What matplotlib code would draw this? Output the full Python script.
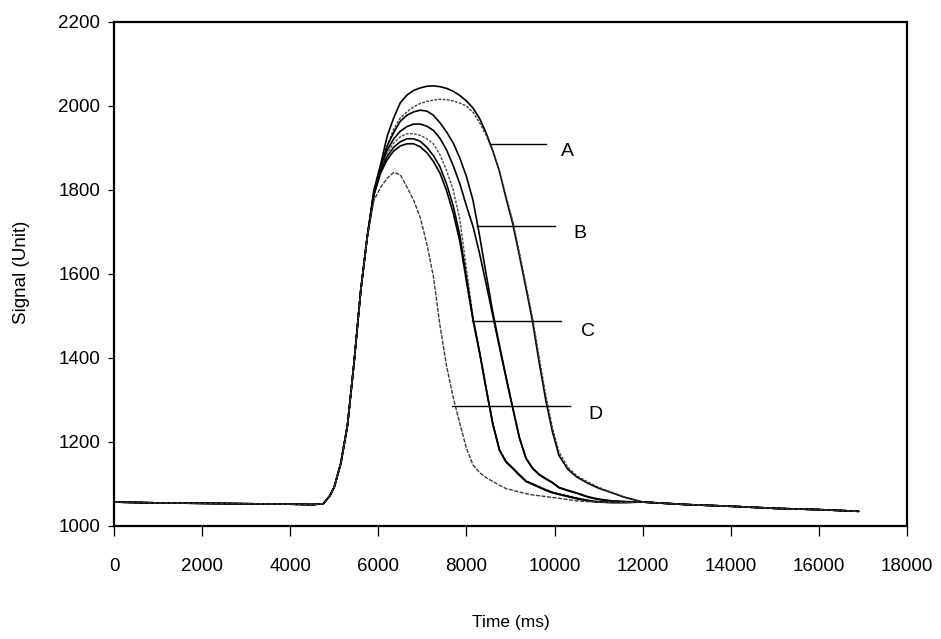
import matplotlib
matplotlib.use("Agg")
import matplotlib.pyplot as plt

plt.rcParams['font.family'] = ['Liberation Sans', 'DejaVu Sans']

# ---------------- data ----------------
# shared baseline and rising edge
time_rise = [0, 1000, 2000, 3000, 4000, 4500, 4750, 4900, 5000, 5150, 5300, 5450, 5600, 5750]
signal_rise = [1057, 1055, 1054, 1053, 1052, 1051, 1053, 1072, 1093, 1150, 1240, 1390, 1560, 1690]

# region where the curves differ
time_mid = [5900, 6050, 6200, 6350, 6500, 6650, 6800, 6950, 7100, 7250, 7400, 7550,
            7700, 7850, 8000, 8150, 8300, 8450, 8600, 8750, 8900, 9050, 9200, 9350,
            9500, 9650, 9800, 9950, 10100, 10300, 10500, 10750, 11000, 11300, 11600]

curve_A1 = [1800, 1860, 1928, 1972, 2008, 2026, 2037, 2043, 2047, 2048, 2046, 2042,
            2035, 2025, 2012, 1995, 1970, 1935, 1893, 1844, 1780, 1720, 1645, 1567,
            1487, 1390, 1300, 1225, 1168, 1135, 1117, 1102, 1090, 1079, 1068]
curve_A2 = [1795, 1850, 1905, 1945, 1972, 1986, 1998, 2006, 2011, 2014, 2016, 2015,
            2012, 2007, 2000, 1985, 1960, 1930, 1892, 1845, 1785, 1726, 1652, 1575,
            1496, 1402, 1312, 1235, 1176, 1140, 1120, 1105, 1092, 1080, 1069]
curve_B1 = [1795, 1855, 1905, 1937, 1964, 1978, 1986, 1990, 1988, 1978, 1960, 1938,
            1912, 1876, 1832, 1775, 1690, 1598, 1508, 1430, 1355, 1283, 1212, 1162,
            1138, 1123, 1113, 1104, 1092, 1085, 1079, 1070, 1064, 1060, 1058]
curve_B2 = [1793, 1850, 1895, 1922, 1940, 1951, 1957, 1957, 1952, 1942, 1923, 1895,
            1858, 1815, 1762, 1713, 1648, 1575, 1500, 1425, 1352, 1280, 1210, 1161,
            1137, 1122, 1112, 1103, 1091, 1084, 1078, 1069, 1063, 1059, 1058]
curve_C1 = [1790, 1848, 1888, 1912, 1927, 1934, 1934, 1930, 1922, 1910, 1884, 1846,
            1800, 1730, 1612, 1497, 1415, 1328, 1245, 1183, 1154, 1139, 1123, 1108,
            1101, 1094, 1087, 1081, 1077, 1072, 1067, 1062, 1058, 1057, 1057]
curve_C2 = [1789, 1845, 1880, 1902, 1915, 1922, 1922, 1916, 1902, 1882, 1855, 1814,
            1762, 1692, 1592, 1492, 1413, 1326, 1243, 1181, 1153, 1138, 1122, 1107,
            1100, 1093, 1086, 1080, 1076, 1071, 1066, 1061, 1057, 1056, 1056]
curve_C3 = [1788, 1840, 1872, 1893, 1905, 1910, 1910, 1903, 1889, 1868, 1840, 1798,
            1745, 1678, 1582, 1490, 1411, 1324, 1241, 1180, 1152, 1137, 1121, 1106,
            1099, 1092, 1085, 1079, 1075, 1070, 1065, 1060, 1057, 1056, 1056]
curve_D = [1775, 1806, 1828, 1842, 1836, 1807, 1776, 1735, 1672, 1594, 1477, 1380,
           1306, 1244, 1185, 1145, 1127, 1115, 1106, 1097, 1089, 1085, 1081, 1077,
           1074, 1072, 1070, 1068, 1066, 1063, 1060, 1058, 1057, 1056, 1056]

# shared tail
time_tail = [12000, 12500, 13000, 14000, 15000, 16000, 16900]
signal_tail = [1057, 1054, 1051, 1047, 1042, 1039, 1035]

x_ticks = [0, 2000, 4000, 6000, 8000, 10000, 12000, 14000, 16000, 18000]
y_ticks = [1000, 1200, 1400, 1600, 1800, 2000, 2200]
x_label = "Time (ms)"
y_label = "Signal (Unit)"
curve_labels = ["A", "B", "C", "D"]

# ---------------- figure ----------------
fig = plt.figure(figsize=(9.41, 6.39), dpi=100)
ax = fig.add_axes([114 / 941, 1 - 526 / 639, 793 / 941, 504 / 639])

time_all = time_rise + time_mid + time_tail
styles = [
    (curve_A1, dict(color="black", lw=1.2)),
    (curve_A2, dict(color="#3a3a3a", lw=1.0, ls=(0, (2, 1)))),
    (curve_B1, dict(color="black", lw=1.2)),
    (curve_B2, dict(color="black", lw=1.2)),
    (curve_C1, dict(color="#4a4a4a", lw=1.0, ls=(0, (2, 1)))),
    (curve_C2, dict(color="black", lw=1.2)),
    (curve_C3, dict(color="black", lw=1.2)),
    (curve_D, dict(color="#3a3a3a", lw=1.0, ls=(0, (3, 1)))),
]
for vals, st in styles:
    ax.plot(time_all, signal_rise + vals + signal_tail, solid_capstyle="round", **st)

ax.set_xlim(0, 18000)
ax.set_ylim(1000, 2200)
ax.set_xticks(x_ticks)
ax.set_yticks(y_ticks)
ax.set_xticklabels([str(v) for v in x_ticks], fontsize=13.5)
ax.set_yticklabels([str(v) for v in y_ticks], fontsize=13.5)
ax.tick_params(axis="x", direction="out", length=7, width=0.9, pad=16)
ax.tick_params(axis="y", direction="out", length=4, width=0.9, pad=6)
for sp in ax.spines.values():
    sp.set_linewidth(1.6)
    sp.set_color("black")

fig.text(511 / 941, 1 - 622 / 639, x_label, ha="center", va="center", fontsize=12.5)
fig.text(22 / 941, 1 - 272 / 639, y_label, ha="center", va="center",
         rotation=90, fontsize=13.5)

# leader lines and labels A-D (line from curve to the right, letter after it)
leaders = [
    (8545, 9795, 1910, 10300, 1892),
    (8250, 10000, 1715, 10580, 1697),
    (8136, 10136, 1487, 10760, 1463),
    (7682, 10341, 1285, 10920, 1266),
]
for lab, (x0, x1, yl, xt, yt) in zip(curve_labels, leaders):
    ax.plot([x0, x1], [yl, yl], color="black", lw=1.0)
    ax.text(xt, yt, lab, fontsize=14, ha="center", va="center")

fig.savefig("out.png", dpi=100)
